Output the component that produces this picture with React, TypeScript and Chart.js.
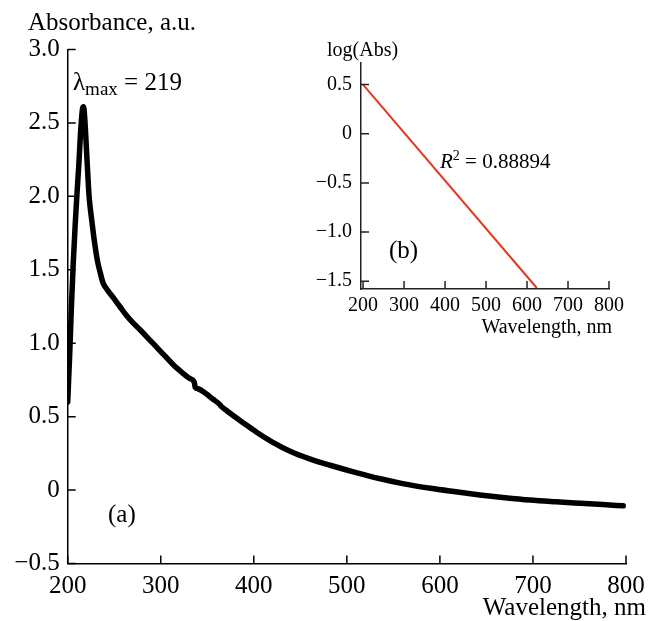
import React, { useEffect, useRef } from 'react';
import { Chart, registerables } from 'chart.js';

Chart.register(...registerables);

// ---- Data (main spectrum, panel a) ----
const wavelengths = [
  200, 202, 204, 206, 208, 210, 212, 214, 216, 217, 218, 219, 221, 223, 226, 229, 232, 235, 238,
  243, 249, 256, 263, 270, 278, 287, 296, 305, 314, 323, 331, 336, 337, 340, 348, 356, 363, 365,
  372, 380, 390, 403, 420, 439, 460, 482, 510, 536, 560, 590, 615, 643, 670, 697, 725, 751,
  775, 797,
];
const absorbance = [
  0.6, 0.9, 1.25, 1.55, 1.8, 2.02, 2.22, 2.45, 2.6, 2.61, 2.56, 2.46, 2.22, 2.0, 1.83, 1.68, 1.56,
  1.48, 1.41, 1.36, 1.31, 1.25, 1.19, 1.14, 1.09, 1.03, 0.97, 0.91, 0.85, 0.8, 0.76, 0.735, 0.7,
  0.69, 0.66, 0.62, 0.585, 0.57, 0.535, 0.497, 0.452, 0.394, 0.327, 0.265, 0.213, 0.169, 0.119,
  0.077, 0.044, 0.012, -0.01, -0.033, -0.052, -0.068, -0.08, -0.09, -0.099, -0.107,
];
const mainXTicks = [200, 300, 400, 500, 600, 700, 800];
const mainYTicks = [-0.5, 0, 0.5, 1.0, 1.5, 2.0, 2.5, 3.0];

// ---- Data (inset, panel b) ----
const fitWavelengths = [200, 624];
const fitLogAbs = [0.5, -1.57];
const insetXTicks = [200, 300, 400, 500, 600, 700, 800];
const insetYTicks = [-1.5, -1.0, -0.5, 0, 0.5];

const FONT = "'Liberation Serif', 'DejaVu Serif', 'Times New Roman', serif";

function fmt(v: number): string {
  if (v === 0) return '0';
  return v.toFixed(1).replace('-', '\u2212');
}

function innerTicksPlugin(len: number, color: string, width: number) {
  return {
    id: 'innerTicks',
    afterDraw(chart: any) {
      const { ctx, chartArea } = chart;
      const xs = chart.scales.x;
      const ys = chart.scales.y;
      ctx.save();
      ctx.strokeStyle = color;
      ctx.lineWidth = width;
      ctx.beginPath();
      xs.ticks.forEach((t: any) => {
        const px = xs.getPixelForValue(t.value);
        ctx.moveTo(px, chartArea.bottom);
        ctx.lineTo(px, chartArea.bottom - len);
      });
      ys.ticks.forEach((t: any) => {
        const py = ys.getPixelForValue(t.value);
        ctx.moveTo(chartArea.left, py);
        ctx.lineTo(chartArea.left + len, py);
      });
      ctx.stroke();
      ctx.restore();
    },
  };
}

const mainTextPlugin = {
  id: 'mainText',
  afterDraw(chart: any) {
    const ctx = chart.ctx;
    ctx.save();
    ctx.fillStyle = '#000';
    ctx.textBaseline = 'alphabetic';
    ctx.textAlign = 'left';
    ctx.font = `25px ${FONT}`;
    ctx.fillText('Absorbance, a.u.', 28, 30);
    // lambda_max label
    let x = 73;
    ctx.fillText('\u03bb', x, 90);
    x += ctx.measureText('\u03bb').width;
    ctx.font = `19px ${FONT}`;
    ctx.fillText('max', x, 95);
    x += ctx.measureText('max').width;
    ctx.font = `25px ${FONT}`;
    ctx.fillText(' = 219', x, 90);
    ctx.fillText('(a)', 108, 522);
    ctx.textAlign = 'right';
    ctx.fillText('Wavelength, nm', 646, 615);
    ctx.restore();
  },
};

const insetTextPlugin = {
  id: 'insetText',
  afterDraw(chart: any) {
    const ctx = chart.ctx;
    ctx.save();
    ctx.fillStyle = '#000';
    ctx.textBaseline = 'alphabetic';
    ctx.textAlign = 'left';
    ctx.font = `20px ${FONT}`;
    ctx.fillText('log(Abs)', 327, 56);
    ctx.font = `25px ${FONT}`;
    ctx.fillText('(b)', 389, 258);
    let x = 440;
    ctx.font = `italic 21px ${FONT}`;
    ctx.fillText('R', x, 168);
    x += ctx.measureText('R').width;
    ctx.font = `14px ${FONT}`;
    ctx.fillText('2', x, 160);
    x += ctx.measureText('2').width;
    ctx.font = `21px ${FONT}`;
    ctx.fillText(' = 0.88894', x, 168);
    ctx.font = `20px ${FONT}`;
    ctx.textAlign = 'right';
    ctx.fillText('Wavelength, nm', 612, 333);
    ctx.restore();
  },
};

export default function App() {
  const mainRef = useRef<HTMLCanvasElement | null>(null);
  const insetRef = useRef<HTMLCanvasElement | null>(null);

  useEffect(() => {
    Chart.defaults.font.family = FONT;
    Chart.defaults.color = '#000';

    const mainChart = new Chart(mainRef.current as HTMLCanvasElement, {
      type: 'line',
      data: {
        datasets: [
          {
            data: wavelengths.map((w, i) => ({ x: w, y: absorbance[i] })),
            borderColor: '#000',
            borderWidth: 5.5,
            pointRadius: 0,
            fill: false,
            cubicInterpolationMode: 'monotone',
            borderJoinStyle: 'round',
            borderCapStyle: 'round',
          },
        ],
      },
      options: {
        animation: false,
        responsive: false,
        devicePixelRatio: 1,
        layout: { padding: { left: 0, top: 49.5, right: 22, bottom: 0 } },
        plugins: { legend: { display: false }, tooltip: { enabled: false } },
        scales: {
          x: {
            type: 'linear',
            min: 200,
            max: 800,
            afterBuildTicks: (s: any) => {
              s.ticks = mainXTicks.map((v) => ({ value: v }));
            },
            afterFit: (s: any) => {
              s.height = 57.5;
            },
            grid: { display: true, drawOnChartArea: false, drawTicks: false },
            border: { display: true, color: '#000', width: 1.5 },
            ticks: {
              padding: 3,
              font: { size: 25, family: FONT, lineHeight: 1.6 },
              color: '#000',
              maxRotation: 0,
              autoSkip: false,
              callback: (v: any) => String(v),
            },
          },
          y: {
            type: 'linear',
            min: -0.5,
            max: 3.0,
            afterBuildTicks: (s: any) => {
              s.ticks = mainYTicks.map((v) => ({ value: v }));
            },
            afterFit: (s: any) => {
              s.width = 67.7;
            },
            grid: { display: true, drawOnChartArea: false, drawTicks: false },
            border: { display: true, color: '#000', width: 1.5 },
            ticks: {
              padding: 8,
              font: { size: 25, family: FONT },
              color: '#000',
              autoSkip: false,
              callback: (v: any) => fmt(Number(v)),
            },
          },
        },
      },
      plugins: [innerTicksPlugin(8, '#000', 1.5), mainTextPlugin],
    } as any);

    const insetChart = new Chart(insetRef.current as HTMLCanvasElement, {
      type: 'line',
      data: {
        datasets: [
          {
            data: fitWavelengths.map((w, i) => ({ x: w, y: fitLogAbs[i] })),
            borderColor: '#e5391e',
            borderWidth: 2,
            pointRadius: 0,
            fill: false,
          },
        ],
      },
      options: {
        animation: false,
        responsive: false,
        devicePixelRatio: 1,
        layout: { padding: { left: 0, top: 63, right: 39, bottom: 0 } },
        plugins: { legend: { display: false }, tooltip: { enabled: false } },
        scales: {
          x: {
            type: 'linear',
            min: 195,
            max: 800,
            afterBuildTicks: (s: any) => {
              s.ticks = insetXTicks.map((v) => ({ value: v }));
            },
            afterFit: (s: any) => {
              s.height = 332;
            },
            grid: { display: true, drawOnChartArea: false, drawTicks: false },
            border: { display: true, color: '#222', width: 1.5 },
            ticks: {
              padding: 5,
              font: { size: 20, family: FONT },
              color: '#000',
              maxRotation: 0,
              autoSkip: false,
              callback: (v: any) => String(v),
            },
          },
          y: {
            type: 'linear',
            min: -1.58,
            max: 0.72,
            afterBuildTicks: (s: any) => {
              s.ticks = insetYTicks.map((v) => ({ value: v }));
            },
            afterFit: (s: any) => {
              s.width = 361;
            },
            grid: { display: true, drawOnChartArea: false, drawTicks: false },
            border: { display: true, color: '#222', width: 1.5 },
            ticks: {
              padding: 9,
              font: { size: 20, family: FONT },
              color: '#000',
              autoSkip: false,
              callback: (v: any) => fmt(Number(v)),
            },
          },
        },
      },
      plugins: [innerTicksPlugin(8, '#222', 1.5), insetTextPlugin],
    } as any);

    return () => {
      mainChart.destroy();
      insetChart.destroy();
    };
  }, []);

  return (
    <div style={{ position: 'absolute', left: 0, top: 0, width: 648, height: 621, background: '#fff' }}>
      <canvas
        ref={mainRef}
        width={648}
        height={621}
        style={{ position: 'absolute', left: 0, top: 0, width: 648, height: 621 }}
      />
      <canvas
        ref={insetRef}
        width={648}
        height={621}
        style={{ position: 'absolute', left: 0, top: 0, width: 648, height: 621, pointerEvents: 'none' }}
      />
    </div>
  );
}
